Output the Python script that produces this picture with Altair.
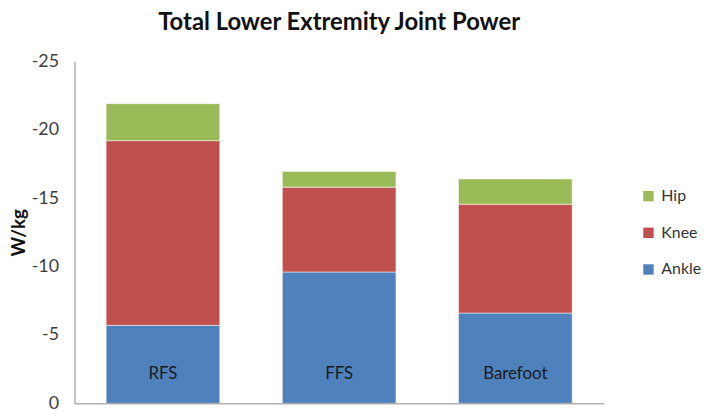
import altair as alt
import pandas as pd

conditions = ["RFS", "FFS", "Barefoot"]
joints = ["Ankle", "Knee", "Hip"]
ankle = [-5.7, -9.6, -6.6]
knee = [-13.5, -6.2, -7.95]
hip = [-2.7, -1.15, -1.85]
y_ticks = [0, -5, -10, -15, -20, -25]

rows = []
for i, c in enumerate(conditions):
    for j, (name, vals) in enumerate(zip(joints, [ankle, knee, hip])):
        rows.append({"Condition": c, "Joint": name, "Value": vals[i], "order": j})
df = pd.DataFrame(rows)

FONT = "Lato"

chart = alt.Chart(df).mark_bar(stroke="white", strokeWidth=0.5).encode(
    x=alt.X("Condition:N", sort=conditions, title=None,
            scale=alt.Scale(paddingInner=0.355, paddingOuter=0.18),
            axis=alt.Axis(labelAngle=0, labelPadding=-38, labelBaseline="top",
                          labelFontSize=17, labelColor="#1a1a1a", ticks=False,
                          domainColor="#8a8a8a", zindex=1, labelFont=FONT)),
    y=alt.Y("Value:Q", stack="zero", title="W/kg",
            scale=alt.Scale(domain=[0, -25]),
            axis=alt.Axis(values=y_ticks, grid=False, ticks=False,
                          labelExpr="datum.value == 0 ? '0' : '-' + abs(datum.value)",
                          labelPadding=16, labelFontSize=18, labelColor="#404040",
                          domainColor="#8a8a8a", titleFontSize=19, titleFontWeight="bold",
                          titleColor="#111111", titlePadding=3, labelFont=FONT, titleFont=FONT)),
    color=alt.Color("Joint:N",
                    scale=alt.Scale(domain=["Hip", "Knee", "Ankle"],
                                    range=["#9BBB59", "#C0504D", "#4F81BD"]),
                    legend=alt.Legend(title=None, orient="none", legendX=571, legendY=128,
                                      symbolType="square", symbolSize=110, symbolStrokeWidth=0,
                                      labelFontSize=16, labelFont=FONT, labelColor="#333333",
                                      rowPadding=21, labelOffset=5)),
    order=alt.Order("order:Q"),
).properties(
    width=534, height=345,
    title=alt.TitleParams("Total Lower Extremity Joint Power", fontSize=24, font=FONT,
                          fontWeight="bold", color="#111111", offset=18, anchor="middle"),
    autosize=alt.AutoSizeParams(type="none"),
    padding={"left": 67, "top": 52, "right": 100, "bottom": 9},
).configure_view(stroke=None)

chart.save("out.html", embed_options={"renderer": "svg", "actions": False})
